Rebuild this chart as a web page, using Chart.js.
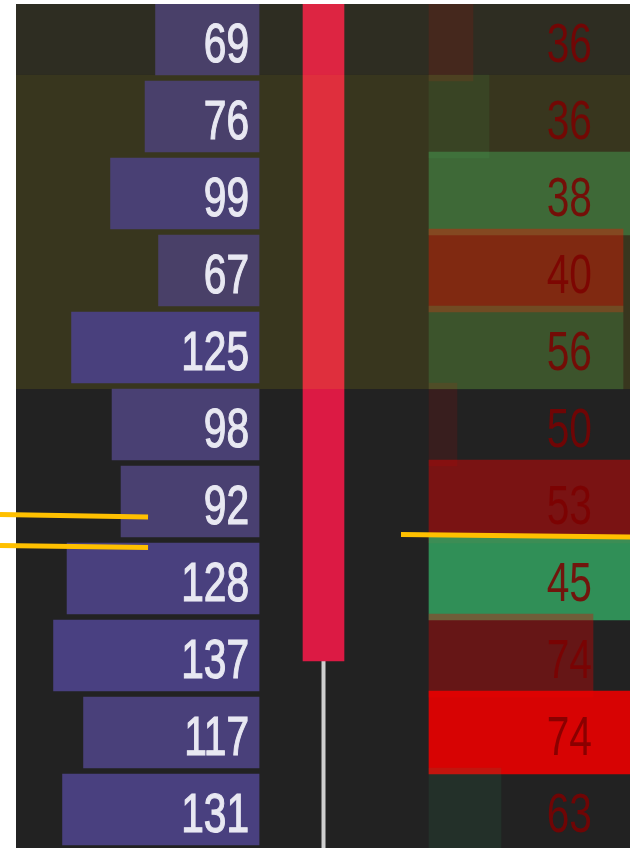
<!DOCTYPE html>
<html>
<head>
<meta charset="utf-8">
<script src="https://cdn.jsdelivr.net/npm/chart.js@4.4.1/dist/chart.umd.min.js"></script>
<style>
  html, body { margin: 0; padding: 0; background: #ffffff; }
  #footprint { display: block; }
</style>
</head>
<body>
<canvas id="footprint" width="630" height="848"></canvas>
<script>
// price rows, top to bottom (row index = ticks below the top visible level)
const rows = [0, 1, 2, 3, 4, 5, 6, 7, 8, 9, 10];
// traded volume per level (left purple bars)
const volume = [69, 76, 99, 67, 125, 98, 92, 128, 137, 117, 131];
// count shown in the right column
const rightCount = [36, 36, 38, 40, 56, 50, 53, 45, 74, 74, 63];
// signed delta per level (right bars, red = negative)
const delta = [-22, 30, 112, -97, 97, -14, -108, 118, -82, -125, 36];
// imbalance strength per level (0..1)
const imbalance = [0.13, 0.13, 0.46, 0.4, 0.27, 0.11, 0.44, 0.87, 0.34, 0.9, 0.12];

// candle (in row units, larger = lower price)
const candle = { time: 0, open: -1.5, high: -2, close: 8.07, low: 11 };

// value area rows and the dim band above it
const valueArea = [0.46, 4.54];
const dimBand = [-0.6, 0.46];

// yellow level lines: [time, row]
const upperBand = [[-1.027, 6.169], [-0.557, 6.201]];
const lowerBand = [[-1.027, 6.571], [-0.557, 6.597]];
const nextLevel = [[0.246, 6.429], [0.973, 6.461]];

const ctx = document.getElementById('footprint').getContext('2d');

const purpleColors = volume.map(v => 'rgb(73, 64, ' + Math.round(80 + 0.36 * v) + ')');
const deltaColors = delta.map((d, i) => d < 0
    ? 'rgba(235, 0, 0, ' + imbalance[i] + ')'
    : 'rgba(50, 160, 95, ' + imbalance[i] + ')');

const CANDLE_INDEX = 3;

function drawBands(chart) {
    const c = chart.ctx;
    const y = chart.scales.y;
    const area = chart.chartArea;
    c.save();
    c.beginPath();
    c.rect(16, area.top, area.right - 16, area.bottom - area.top);
    c.clip();
    let t = y.getPixelForValue(dimBand[0]);
    let b = y.getPixelForValue(dimBand[1]);
    c.fillStyle = 'rgba(255, 240, 30, 0.055)';
    c.fillRect(16, t, area.right - 16, b - t);
    t = y.getPixelForValue(valueArea[0]);
    b = y.getPixelForValue(valueArea[1]);
    c.fillStyle = 'rgba(255, 240, 0, 0.1)';
    c.fillRect(16, t, area.right - 16, b - t);
    c.restore();
}

const backgroundPlugin = {
    id: 'background',
    beforeDraw(chart) {
        const c = chart.ctx;
        c.save();
        c.fillStyle = '#ffffff';
        c.fillRect(0, 0, chart.width, chart.height);
        c.fillStyle = '#222222';
        c.fillRect(16, chart.chartArea.top, chart.width - 16, chart.height - chart.chartArea.top);
        c.restore();
    },
    afterDatasetDraw(chart, args) {
        // the value-area tint sits over the candle and right bars, under the volume bars
        if (args.index === CANDLE_INDEX) drawBands(chart);
    },
    afterDatasetsDraw(chart) {
        const c = chart.ctx;
        const y = chart.scales.y;
        const xL = chart.scales.xL;
        const xR = chart.scales.xR;
        const leftEnd = xL.getPixelForValue(0) - 10;
        const rightEnd = xR.getPixelForValue(0) + 163;
        c.save();
        c.font = '55px "Liberation Sans", Arial, sans-serif';
        c.textAlign = 'right';
        c.textBaseline = 'alphabetic';
        rows.forEach((r, i) => {
            const cy = y.getPixelForValue(r) + 22.5;
            c.save();
            c.translate(leftEnd, cy);
            c.scale(0.74, 1);
            c.fillStyle = '#e8e8f2';
            c.strokeStyle = '#e8e8f2';
            c.lineWidth = 1.2;
            c.fillText(String(volume[i]), 0, 0);
            c.strokeText(String(volume[i]), 0, 0);
            c.restore();
            c.save();
            c.translate(rightEnd, cy);
            c.scale(0.74, 1);
            c.fillStyle = 'rgba(125, 0, 0, 0.85)';
            c.fillText(String(rightCount[i]), 0, 0);
            c.restore();
        });
        c.restore();
    }
};

const toPts = arr => arr.map(p => ({ x: p[0], y: p[1] }));

new Chart(ctx, {
    type: 'bar',
    data: {
        datasets: [
            {
                type: 'line',
                data: toPts(upperBand),
                xAxisID: 'xt', yAxisID: 'y',
                borderColor: '#ffc000', borderWidth: 5, pointRadius: 0,
                order: 0
            },
            {
                type: 'line',
                data: toPts(lowerBand),
                xAxisID: 'xt', yAxisID: 'y',
                borderColor: '#ffc000', borderWidth: 5, pointRadius: 0,
                order: 0
            },
            {
                type: 'line',
                data: toPts(nextLevel),
                xAxisID: 'xt', yAxisID: 'y',
                borderColor: '#ffc000', borderWidth: 5, pointRadius: 0,
                order: 0
            },
            {
                type: 'bar',
                indexAxis: 'x',
                data: [{ x: candle.time, y: [candle.open, candle.close] }],
                xAxisID: 'xt', yAxisID: 'y',
                backgroundColor: '#dc1a44',
                barThickness: 41,
                grouped: false,
                order: 3
            },
            {
                type: 'line',
                data: [{ x: candle.time, y: candle.high }, { x: candle.time, y: candle.low }],
                xAxisID: 'xt', yAxisID: 'y',
                borderColor: '#cfcfcf', borderWidth: 4, pointRadius: 0,
                order: 4
            },
            {
                type: 'bar',
                indexAxis: 'y',
                data: rows.map((r, i) => ({ x: volume[i], y: r })),
                xAxisID: 'xL', yAxisID: 'y',
                backgroundColor: purpleColors,
                barThickness: 71,
                grouped: false,
                order: 2
            },
            {
                type: 'bar',
                indexAxis: 'y',
                data: rows.map((r, i) => ({ x: Math.abs(delta[i]), y: r })),
                xAxisID: 'xR', yAxisID: 'y',
                backgroundColor: deltaColors,
                barThickness: 83,
                grouped: false,
                order: 5
            }
        ]
    },
    options: {
        responsive: false,
        animation: false,
        devicePixelRatio: 1,
        layout: { padding: { top: 4, left: 0, right: 0, bottom: 0 } },
        plugins: {
            legend: { display: false },
            tooltip: { enabled: false }
        },
        scales: {
            y: { type: 'linear', axis: 'y', reverse: true, min: -0.461, max: 10.5, offset: false, display: false },
            xL: { type: 'linear', axis: 'x', reverse: true, min: -247.3, max: 172.7, offset: false, display: false },
            xR: { type: 'linear', axis: 'x', min: -214.5, max: 100.5, offset: false, display: false },
            xt: { type: 'linear', axis: 'x', min: -1.027, max: 0.973, offset: false, display: false }
        }
    },
    plugins: [backgroundPlugin]
});
</script>
</body>
</html>
